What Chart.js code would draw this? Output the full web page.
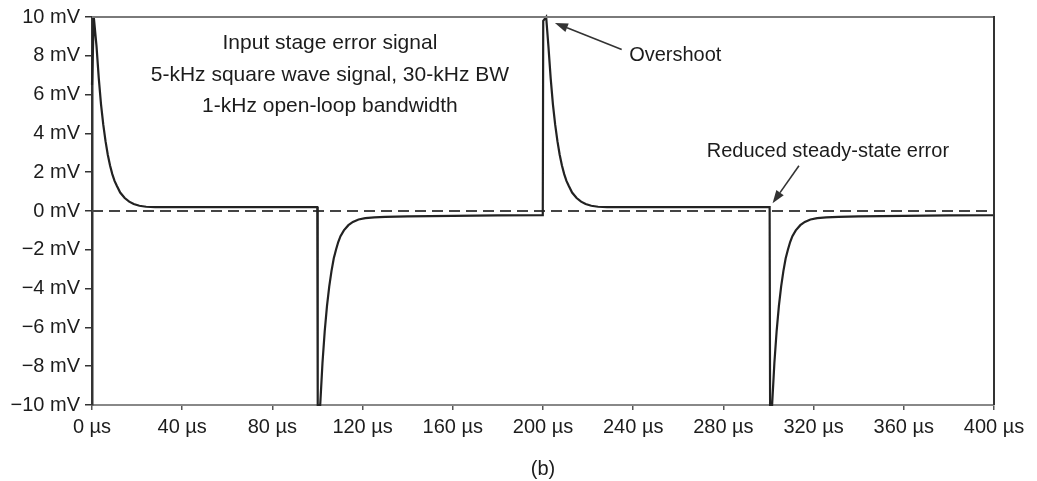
<!DOCTYPE html>
<html>
<head>
<meta charset="utf-8">
<script src="https://cdn.jsdelivr.net/npm/chart.js@4.4.1/dist/chart.umd.min.js"></script>
<style>
  html, body { margin: 0; padding: 0; background: #ffffff; }
  #wrap { position: relative; width: 1037px; height: 481px; }
</style>
</head>
<body>
<div id="wrap"><canvas id="c"></canvas></div>
<script>
// ---- Data ----
// time axis (µs) and input-stage error signal (mV)
const timeUs = [
  0, 0.8, 2, 3, 4, 5, 6, 7, 8, 9, 10, 11, 12.5, 14.5, 16.5, 18.5, 21, 24, 28, 33, 40, 60, 80, 99.9,
  100.1, 101.2, 102.2, 103.2, 104.2, 105.2, 106.2, 107.2, 108.2, 109.2, 110.2, 111.7, 113.7, 115.7, 118.2, 121.2, 125.2, 130, 140, 160, 180, 199.9,
  200.1, 201.4, 202.4, 203.4, 204.4, 205.4, 206.4, 207.4, 208.4, 209.4, 210.4, 211.4, 212.9, 214.9, 216.9, 218.9, 221.4, 224.4, 228.4, 233.4, 240, 260, 280, 300.5,
  300.7, 301.6, 302.6, 303.6, 304.6, 305.6, 306.6, 307.6, 308.6, 309.6, 310.6, 312.1, 314.1, 316.1, 318.6, 321.6, 325.6, 331, 340, 360, 380, 400
];
const errorMv = [
  6.5, 10, 8.5, 6.85, 5.5, 4.45, 3.6, 2.9, 2.35, 1.9, 1.55, 1.3, 0.95, 0.67, 0.48, 0.36, 0.27, 0.22, 0.2, 0.2, 0.2, 0.2, 0.2, 0.2,
  -10, -10, -7.85, -6.2, -4.9, -3.9, -3.1, -2.45, -2.0, -1.6, -1.3, -1.0, -0.73, -0.56, -0.44, -0.37, -0.33, -0.3, -0.28, -0.25, -0.23, -0.22,
  9.8, 10, 8.5, 6.85, 5.5, 4.45, 3.6, 2.9, 2.35, 1.9, 1.55, 1.3, 0.95, 0.67, 0.48, 0.36, 0.27, 0.22, 0.2, 0.2, 0.2, 0.2, 0.2, 0.2,
  -10, -10, -7.85, -6.2, -4.9, -3.9, -3.1, -2.45, -2.0, -1.6, -1.3, -1.0, -0.73, -0.56, -0.44, -0.37, -0.33, -0.3, -0.28, -0.25, -0.23, -0.22
];
// dashed 0 mV reference
const refTimeUs = [0, 400];
const refMv = [0, 0];
// axis ranges / tick steps
const xRangeUs = [0, 400];
const xStepUs = 40;
const yRangeMv = [-10, 10];
const yStepMv = 2;
// annotation texts
const infoLines = [
  "Input stage error signal",
  "5-kHz square wave signal, 30-kHz BW",
  "1-kHz open-loop bandwidth"
];
const overshootLabel = "Overshoot";
const steadyLabel = "Reduced steady-state error";
const captionLabel = "(b)";

const FONT = "'Liberation Sans', Arial, Helvetica, sans-serif";
const TEXT = "#1c1c1c";

function arrow(ctx, x1, y1, x2, y2) {
  const ang = Math.atan2(y2 - y1, x2 - x1);
  const len = 13, hw = 4.5;
  const bx = x2 - len * Math.cos(ang), by = y2 - len * Math.sin(ang);
  ctx.save();
  ctx.strokeStyle = "#333";
  ctx.fillStyle = "#333";
  ctx.lineWidth = 1.6;
  ctx.beginPath();
  ctx.moveTo(x1, y1);
  ctx.lineTo(bx, by);
  ctx.stroke();
  ctx.beginPath();
  ctx.moveTo(x2, y2);
  ctx.lineTo(bx + hw * Math.sin(ang), by - hw * Math.cos(ang));
  ctx.lineTo(bx - hw * Math.sin(ang), by + hw * Math.cos(ang));
  ctx.closePath();
  ctx.fill();
  ctx.restore();
}

const annotations = {
  id: "annotations",
  afterDatasetsDraw(chart) {
    const {ctx, chartArea, scales: {x, y}} = chart;
    ctx.save();
    // top and right frame lines
    ctx.lineWidth = 2;
    ctx.strokeStyle = "#7a7a7a";
    ctx.beginPath();
    ctx.moveTo(chartArea.left, chartArea.top);
    ctx.lineTo(chartArea.right, chartArea.top);
    ctx.stroke();
    ctx.strokeStyle = "#333";
    ctx.beginPath();
    ctx.moveTo(chartArea.right, chartArea.top - 1);
    ctx.lineTo(chartArea.right, chartArea.bottom);
    ctx.stroke();

    ctx.fillStyle = TEXT;
    ctx.textBaseline = "alphabetic";
    // info block
    ctx.font = "21px " + FONT;
    ctx.textAlign = "center";
    const cx = x.getPixelForValue(105.5);
    const by = y.getPixelForValue(8.33);
    infoLines.forEach((t, i) => ctx.fillText(t, cx, by + i * 31.3));
    // overshoot
    ctx.font = "20px " + FONT;
    ctx.textAlign = "left";
    ctx.fillText(overshootLabel, x.getPixelForValue(238.2), y.getPixelForValue(7.73));
    arrow(ctx, x.getPixelForValue(234.9), y.getPixelForValue(8.33),
               x.getPixelForValue(205.3), y.getPixelForValue(9.69));
    // reduced steady-state error
    ctx.fillText(steadyLabel, x.getPixelForValue(272.6), y.getPixelForValue(2.79));
    arrow(ctx, x.getPixelForValue(313.5), y.getPixelForValue(2.33),
               x.getPixelForValue(301.8), y.getPixelForValue(0.4));
    ctx.restore();
  }
};

const minus = "\u2212";
new Chart(document.getElementById("c"), {
  type: "line",
  data: {
    datasets: [
      {
        label: "error",
        data: timeUs.map((t, i) => ({x: t, y: errorMv[i]})),
        borderColor: "#222",
        borderWidth: 2.2,
        pointRadius: 0,
        tension: 0,
        clip: 6
      },
      {
        label: "zero",
        data: refTimeUs.map((t, i) => ({x: t, y: refMv[i]})),
        borderColor: "#444",
        borderWidth: 2.2,
        borderDash: [11, 6],
        pointRadius: 0,
        clip: 6
      }
    ]
  },
  options: {
    responsive: true,
    maintainAspectRatio: false,
    animation: false,
    layout: { padding: { top: 14, right: 43, bottom: 0, left: 0 } },
    plugins: { legend: { display: false }, tooltip: { enabled: false } },
    scales: {
      x: {
        type: "linear",
        min: xRangeUs[0], max: xRangeUs[1],
        afterFit(s) { s.height = 76; },
        border: { display: true, color: "#888", width: 2 },
        grid: { display: true, drawOnChartArea: false, drawTicks: true, tickLength: 5, color: "#555", lineWidth: 1.5 },
        ticks: {
          stepSize: xStepUs, autoSkip: false, maxRotation: 0, padding: 5,
          color: TEXT, font: { family: FONT, size: 20 },
          callback: v => v + " µs"
        },
        title: { display: true, text: captionLabel, color: TEXT, font: { family: FONT, size: 20 }, padding: { top: 0, bottom: 0 } }
      },
      y: {
        type: "linear",
        min: yRangeMv[0], max: yRangeMv[1],
        afterFit(s) { s.width = 92; },
        border: { display: true, color: "#333", width: 2.5 },
        grid: { display: true, drawOnChartArea: false, drawTicks: true, tickLength: 7, color: "#333", lineWidth: 1.5 },
        ticks: {
          stepSize: yStepMv, padding: 5,
          color: TEXT, font: { family: FONT, size: 20 },
          callback: v => (v < 0 ? minus + Math.abs(v) : v) + " mV"
        }
      }
    }
  },
  plugins: [annotations]
});
</script>
</body>
</html>
